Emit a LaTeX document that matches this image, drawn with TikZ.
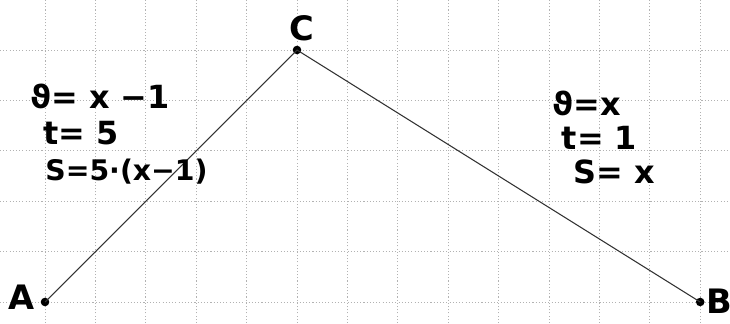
\documentclass[tikz,border=0pt]{standalone}
\usepackage{fontspec}
\setmainfont{DejaVu Sans}
\begin{document}
\begin{tikzpicture}[x=1cm,y=1cm,
  gridline/.style={gray!60, line width=0.45pt, dash pattern=on 0.6pt off 1.2pt},
  seg/.style={black!80, line width=0.6pt},
  pt/.style={circle, fill=black, inner sep=0pt, minimum size=0.17cm},
  lbl/.style={font=\bfseries\fontsize{19}{19}\selectfont, inner sep=0pt},
  eq/.style={font=\bfseries\fontsize{18}{18}\selectfont, inner sep=0pt}
]
\useasboundingbox (-0.893,-0.417) rectangle (13.591,5.992);
\fill[white] (-0.893,-0.417) rectangle (13.591,5.992);
\foreach \x in {0,...,13} \draw[gridline] (\x,-0.417) -- (\x,5.992);
\foreach \y in {0,...,5} \draw[gridline] (-0.893,\y) -- (13.591,\y);
\node[pt] (A) at (0,0) {};
\node[pt] (C) at (5,5) {};
\node[pt] (B) at (13,0) {};
\draw[seg] (A.center) -- (C.center) -- (B.center);
\node[lbl] (la) at (-0.46,0.1) {A};
\node[lbl] (lc) at (5.1,5.44) {C};
\node[lbl] (lb) at (13.37,0.02) {B};
\node[eq, anchor=west] (l1) at (-0.3,4.07) {ϑ= x −1};
\node[eq, anchor=west] (l2) at (-0.04,3.35) {t= 5};
\node[eq, anchor=west, font=\bfseries\fontsize{16}{16}\selectfont] (l3) at (0,2.58) {S=5·(x−1)};
\node[eq] (r1) at (10.75,3.93) {ϑ=x};
\node[eq] (r2) at (11.0,3.25) {t= 1};
\node[eq] (r3) at (11.3,2.58) {S= x};
\end{tikzpicture}
\end{document}
